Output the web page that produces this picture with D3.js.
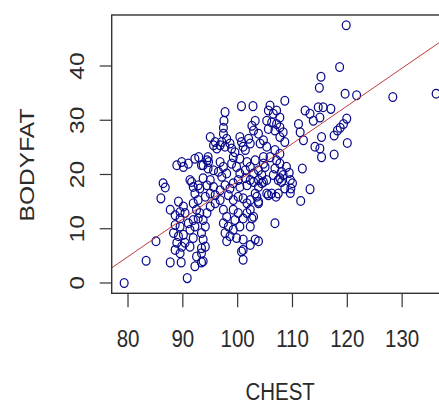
<!DOCTYPE html>
<html>
<head>
<meta charset="utf-8">
<script src="https://cdn.jsdelivr.net/npm/d3@7"></script>
<style>
  html, body { margin: 0; padding: 0; background: #fff; overflow: hidden; }
  svg { display: block; }
</style>
</head>
<body>
<svg id="chart" width="439" height="406"></svg>
<script>
// ---- data ----
const chest = [
  79.3,83.3,85.1,86.0,86.8,87.7,89.7,90.8,92.2,93.4,
  87.7,89.2,90.1,89.5,88.6,90.4,89.5,
  90.1,91.0,92.2,93.4,94.7,88.9,89.8,
  91.6,92.8,86.4,91.3,
  92.9,94.6,
  95.0,95.9,96.8,95.6,96.2,
  97.5,97.4,97.7,
  100.7,102.8,103.2,102.6,
  105.9,105.6,106.5,107.1,
  108.6,107.7,
  105.3,106.2,107.1,107.7,108.3,106.8,105.6,107.7,108.6,
  111.1,111.4,112.0,
  112.3,113.2,113.8,115.0,115.6,114.7,117.0,
  115.3,114.1,115.0,115.3,117.6,
  119.9,119.3,118.7,118.2,
  120.0,117.6,
  119.8,118.6,115.2,114.9,119.6,121.7,128.3,136.2,
  111.8,113.2,111.5,110.0,109.7,109.6,
  109.4,108.3,107.7,108.0,
  107.0,106.2,105.6,106.8,103.8,102.9,102.3,103.5,103.8,102.3,103.2,101.0,101.0,102.6,101.0,
  97.4,98.0,97.1,97.7,98.6,98.9,99.5,99.2,
  100.4,100.7,101.0,101.4,102.0,102.3,102.9,103.8,104.1,
  94.4,93.7,94.6,95.6,
  96.8,97.4,96.5,97.1,98.0,
  98.9,99.8,100.4,101.4,102.3,102.9,103.8,104.4,103.8,102.3,
  95.0,93.7,
  100.4,101.7,103.2,104.7,100.1,101.4,102.9,104.7,
  104.7,105.3,104.7,105.9,106.8,107.1,107.7,107.7,108.9,106.8,105.0,106.5,107.4,105.3,109.6,
  88.6,89.5,88.3,89.2,90.1,88.9,89.8,88.6,89.5,90.4,91.3,91.9,91.3,92.2,91.0,91.9,92.8,93.1,92.5,91.9,92.8,92.2,93.1,91.9,
  92.5,93.4,93.4,93.4,
  94.4,95.6,95.0,94.1,95.9,96.8,97.7,98.6,99.2,100.4,101.7,103.8,103.2,102.3,103.8,101.7,101.0,100.1,99.2,98.3,96.8,95.9,95.0,94.4,93.7,94.1,93.7,94.1,93.7,
  97.4,98.0,97.4,98.3,97.7,98.6,98.0,99.2,99.5,99.2,99.8,100.4,100.1,101.0,101.7,102.3,
  100.7,
  104.4,105.3,107.4,108.0,108.6
];
const bodyfat = [
  0.0,4.1,7.7,15.6,17.6,3.8,3.8,0.9,3.1,3.8,
  13.5,15.0,14.1,11.9,12.5,12.9,13.1,
  21.4,22.0,22.9,21.7,22.3,21.7,22.3,
  18.6,18.0,18.4,19.0,
  23.2,23.2,
  26.9,26.0,25.4,25.4,24.8,
  29.9,28.6,31.5,
  32.6,32.6,29.9,29.0,
  32.7,31.8,31.2,31.8,
  33.6,30.5,
  29.9,29.6,29.3,28.7,27.8,28.1,28.4,26.9,26.0,
  29.3,27.8,26.3,
  31.8,31.2,29.9,30.5,32.4,32.4,32.1,
  26.9,25.1,24.8,23.2,27.2,
  30.3,29.3,28.6,28.1,
  25.8,23.7,
  47.5,39.8,38.0,36.0,34.9,34.6,34.3,34.9,
  21.1,17.3,15.1,18.4,17.4,16.6,
  20.3,19.9,19.3,20.5,
  15.9,16.5,16.2,11.0,7.7,12.2,10.4,15.9,14.7,7.0,8.0,6.1,4.3,11.9,8.0,
  27.5,26.6,26.0,25.1,25.7,24.8,24.1,23.2,
  26.9,26.0,25.1,24.5,26.6,25.7,28.1,27.5,25.7,
  22.6,21.7,21.1,20.8,
  22.3,21.4,20.5,19.6,20.2,
  22.0,21.4,20.2,20.8,21.4,20.2,20.8,19.9,19.0,19.0,
  19.0,19.3,
  22.9,22.3,22.6,22.0,19.0,19.3,18.6,18.6,
  26.3,25.1,23.2,23.2,24.5,22.6,23.8,22.0,21.4,21.1,21.4,19.9,19.0,19.0,19.0,
  10.7,10.4,9.2,8.6,8.9,7.4,6.7,6.1,5.5,7.4,6.7,8.3,9.8,10.4,11.0,11.6,11.9,12.9,13.5,14.7,15.3,16.5,17.4,17.7,
  4.9,9.2,6.4,5.5,
  18.0,17.7,16.5,15.9,16.2,17.1,18.0,17.4,18.4,17.7,18.0,17.7,16.5,15.3,15.0,14.7,15.6,15.9,15.3,16.2,15.3,14.7,14.1,12.9,11.6,10.4,8.0,6.7,4.0,
  13.5,12.2,11.0,10.4,9.2,8.6,7.7,13.5,11.6,9.8,8.3,10.4,12.9,11.9,12.9,13.5,
  5.8,
  18.4,16.5,16.5,18.6,17.4
];
const xTicks = [80, 90, 100, 110, 120, 130];
const yTicks = [0, 10, 20, 30, 40];
const xLabel = "CHEST";
const yLabel = "BODYFAT";
// fitted line bodyfat = fitIntercept + fitSlope * chest
const fitIntercept = -50.74;
const fitSlope = 0.695;

// ---- layout ----
const svg = d3.select("#chart");
const plot = { left: 111.7, top: 15, right: 448.6, bottom: 293.3 };
const stretch = 1.2;
const fontFamily = "'Liberation Sans', Arial, Helvetica, sans-serif";
const textColor = "#2a2a2a";

const points = chest.map((c, i) => ({ x: c, y: bodyfat[i] }));
const xExt = d3.extent(chest), yExt = d3.extent(bodyfat);
const xPad = (xExt[1] - xExt[0]) * 0.04, yPad = (yExt[1] - yExt[0]) * 0.04;
const x = d3.scaleLinear().domain([xExt[0] - xPad, xExt[1] + xPad]).range([plot.left, plot.right]);
const y = d3.scaleLinear().domain([yExt[0] - yPad, yExt[1] + yPad]).range([plot.bottom, plot.top]);

svg.append("defs").append("clipPath").attr("id", "clip")
  .append("rect")
  .attr("x", plot.left).attr("y", plot.top)
  .attr("width", plot.right - plot.left).attr("height", plot.bottom - plot.top);

// points
svg.append("g").attr("clip-path", "url(#clip)")
  .selectAll("ellipse").data(points).join("ellipse")
  .attr("cx", d => x(d.x)).attr("cy", d => y(d.y))
  .attr("rx", 3.9).attr("ry", 4.4)
  .attr("fill", "none").attr("stroke", "#0a0a8c").attr("stroke-width", 1.25);

// regression line
const xd = x.domain();
svg.append("line").attr("clip-path", "url(#clip)")
  .attr("x1", x(xd[0])).attr("y1", y(fitIntercept + fitSlope * xd[0]))
  .attr("x2", x(xd[1])).attr("y2", y(fitIntercept + fitSlope * xd[1]))
  .attr("stroke", "#c03a3a").attr("stroke-width", 1);

// box
svg.append("rect")
  .attr("x", plot.left).attr("y", plot.top)
  .attr("width", plot.right - plot.left).attr("height", plot.bottom - plot.top)
  .attr("fill", "none").attr("stroke", "#333").attr("stroke-width", 1.4);

// x axis ticks & labels
const xAxis = svg.append("g");
xAxis.selectAll("line").data(xTicks).join("line")
  .attr("x1", d => x(d)).attr("x2", d => x(d))
  .attr("y1", plot.bottom).attr("y2", plot.bottom + 14)
  .attr("stroke", "#333").attr("stroke-width", 1.2);
xAxis.selectAll("text").data(xTicks).join("text")
  .attr("transform", d => `translate(${x(d)},346.5) scale(1,${stretch})`)
  .attr("text-anchor", "middle")
  .attr("font-family", fontFamily).attr("font-size", 20.5)
  .attr("fill", textColor)
  .text(d => d);

// y axis ticks & labels
const yAxis = svg.append("g");
yAxis.selectAll("line").data(yTicks).join("line")
  .attr("x1", plot.left - 12).attr("x2", plot.left)
  .attr("y1", d => y(d)).attr("y2", d => y(d))
  .attr("stroke", "#333").attr("stroke-width", 1.2);
yAxis.selectAll("text").data(yTicks).join("text")
  .attr("transform", d => `translate(83.5,${y(d)}) scale(1,${stretch}) rotate(-90)`)
  .attr("text-anchor", "middle")
  .attr("font-family", fontFamily).attr("font-size", 20.5)
  .attr("fill", textColor)
  .text(d => d);

// axis titles
svg.append("text")
  .attr("transform", `translate(${(plot.left + plot.right) / 2},400) scale(1,${stretch})`)
  .attr("text-anchor", "middle")
  .attr("font-family", fontFamily).attr("font-size", 20.5)
  .attr("fill", textColor)
  .text(xLabel);
svg.append("text")
  .attr("transform", `translate(33.5,165) scale(1,${stretch}) rotate(-90)`)
  .attr("text-anchor", "middle")
  .attr("font-family", fontFamily).attr("font-size", 20.5)
  .attr("fill", textColor)
  .text(yLabel);
</script>
</body>
</html>
